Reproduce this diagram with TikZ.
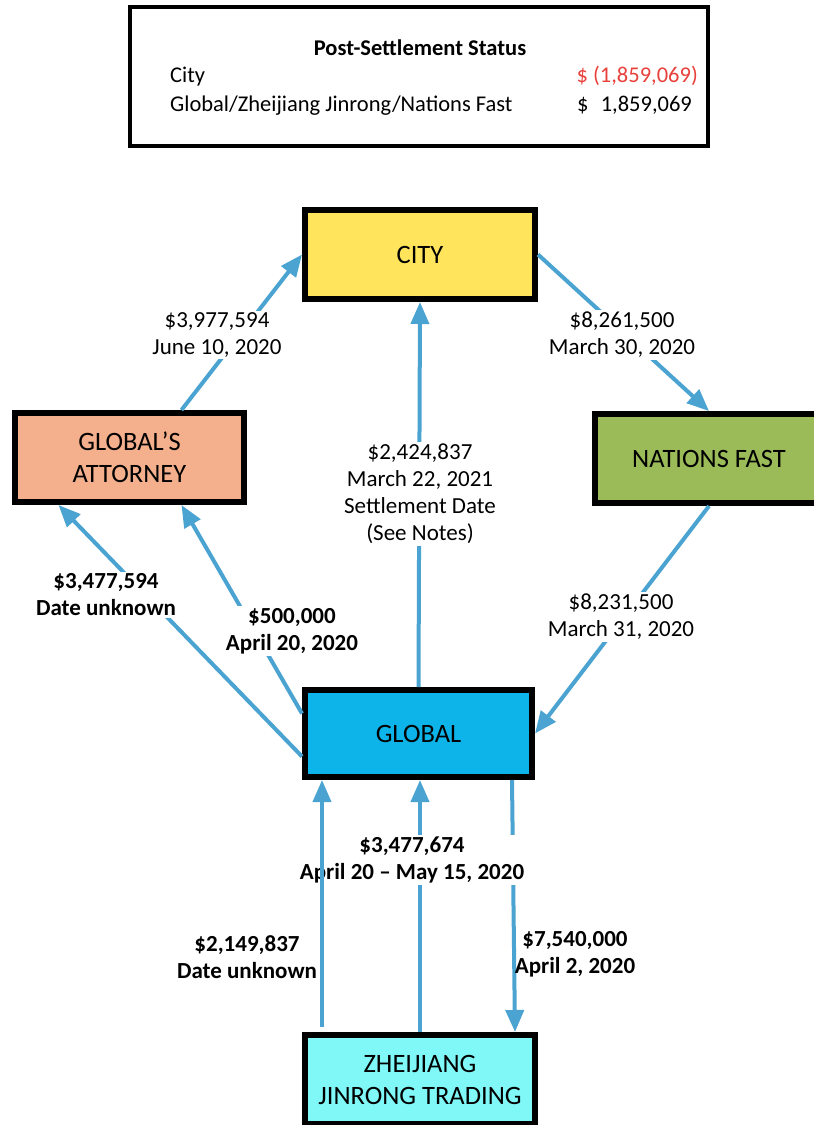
\documentclass[tikz,border=0pt]{standalone}
\usepackage{fontspec}
\setmainfont{Carlito}
\usetikzlibrary{arrows.meta}

\definecolor{flowblue}{HTML}{4AA3D0}
\definecolor{cityyellow}{HTML}{FFE45C}
\definecolor{attysalmon}{HTML}{F4B08C}
\definecolor{nationsgreen}{HTML}{9BBB59}
\definecolor{globalblue}{HTML}{0DB4EA}
\definecolor{zhecyan}{HTML}{80F8F8}
\definecolor{lossred}{HTML}{E8413C}

\begin{document}
\begin{tikzpicture}[x=1pt,y=-1pt,
    party/.style={draw=black, line width=6pt, minimum height=89pt, inner sep=0pt,
        align=center, font=\fontsize{26.5}{32}\selectfont},
    amount/.style={fill=white, inner sep=2pt, align=center, font=\fontsize{23}{27}\selectfont},
    boldamount/.style={amount, font=\fontsize{23}{27}\selectfont\bfseries},
    row/.style={inner sep=0pt, font=\fontsize{22.5}{27}\selectfont},
    flow/.style={draw=flowblue, line width=4pt, -{Triangle[length=22pt,width=18pt]}}]
    \useasboundingbox (0,0) rectangle (814,1125);
    \clip (0,0) rectangle (814,1125);

    % summary table
    \node[draw=black, line width=4pt, minimum width=578pt, minimum height=139pt] (status) at (419,76.5) {};
    \node[row, anchor=base, font=\fontsize{22.5}{27}\selectfont\bfseries] (title) at (420,55) {Post-Settlement Status};
    \node[row, anchor=base west] (cityrow) at (170,82) {City};
    \node[row, anchor=base east, text=lossred] (citysum) at (698,82) {\$ (1,859,069)};
    \node[row, anchor=base west] (partyrow) at (170,111) {Global/Zheijiang Jinrong/Nations Fast};
    \node[row, anchor=base west] (partyusd) at (577,111) {\$};
    \node[row, anchor=base east] (partysum) at (692,111) {1,859,069};

    % parties
    \node[party, fill=cityyellow, minimum width=230pt] (city) at (420,254.5) {CITY};
    \node[party, fill=attysalmon, minimum width=229pt] (attorney) at (129.5,457.5) {GLOBAL’S\\ATTORNEY};
    \node[party, fill=nationsgreen, minimum width=228pt] (nations) at (709,458.5) {NATIONS FAST};
    \node[party, fill=globalblue, minimum width=227pt, minimum height=87pt] (global) at (418.5,733.5) {GLOBAL};
    \node[party, fill=zhecyan, minimum width=230pt] (zhe) at (420,1079.5) {ZHEIJIANG\\JINRONG TRADING};

    % payments around the city
    \draw[flow] ([xshift=52pt]attorney.north) -- (city.west);
    \draw[flow] (city.east) -- (nations.north);
    \draw[flow] (global.north) -- (city.south);
    \draw[flow] (nations.south) -- (global.east);
    \draw[flow] ([yshift=-23pt]global.west) -- ([xshift=-71pt]attorney.south);
    \draw[flow] ([yshift=20pt]global.west) -- ([xshift=52pt]attorney.south);

    \node[amount] (attycity) at (217,335) {\$3,977,594\\June 10, 2020};
    \node[amount] (citynations) at (622,335) {\$8,261,500\\March 30, 2020};
    \node[amount] (settlement) at (420,494) {\$2,424,837\\March 22, 2021\\Settlement Date\\(See Notes)};
    \node[amount] (nationsglobal) at (621,617) {\$8,231,500\\March 31, 2020};
    \node[boldamount] (globalattyA) at (106,595) {\$3,477,594\\Date unknown};
    \node[boldamount] (globalattyB) at (292,631) {\$500,000\\April 20, 2020};

    % payments with the trading company
    \draw[flow] (zhe.north) -- (zhe.north |- global.south);
    \draw[flow] ([xshift=93.5pt]global.south) -- ([xshift=95pt]zhe.north);
    \node[boldamount] (zheglobalB) at (412,860) {\$3,477,674\\April 20 -- May 15, 2020};
    \draw[flow] ([xshift=-98pt,yshift=5pt]zhe.north) -- ([xshift=-96.5pt]global.south);
    \node[boldamount, fill=none] (zheglobalA) at (247,957) {\$2,149,837\\Date unknown};
    \node[boldamount, fill=none] (globalzhe) at (575,954) {\$7,540,000\\April 2, 2020};
\end{tikzpicture}
\end{document}
